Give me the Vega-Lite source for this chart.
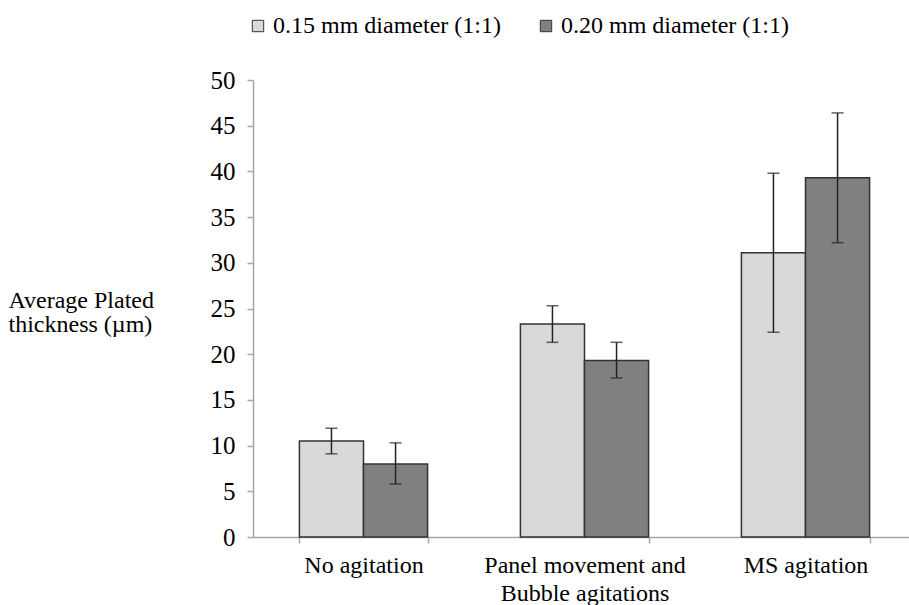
{
  "$schema": "https://vega.github.io/schema/vega-lite/v6.json",
  "width": 663,
  "height": 457,
  "autosize": {"type": "none"},
  "padding": {"left": 253, "top": 80, "right": 0, "bottom": 68},
  "background": "white",
  "config": {
    "font": "Liberation Serif",
    "view": {"stroke": null}
  },
  "data": {
    "values": [
      {"cond": "No agitation", "size": "0.15 mm diameter (1:1)", "mean": 10.5, "lo": 9.1, "hi": 11.9},
      {"cond": "No agitation", "size": "0.20 mm diameter (1:1)", "mean": 8.0, "lo": 5.8, "hi": 10.3},
      {"cond": "Panel movement and Bubble agitations", "size": "0.15 mm diameter (1:1)", "mean": 23.3, "lo": 21.3, "hi": 25.3},
      {"cond": "Panel movement and Bubble agitations", "size": "0.20 mm diameter (1:1)", "mean": 19.3, "lo": 17.4, "hi": 21.3},
      {"cond": "MS agitation", "size": "0.15 mm diameter (1:1)", "mean": 31.1, "lo": 22.4, "hi": 39.8},
      {"cond": "MS agitation", "size": "0.20 mm diameter (1:1)", "mean": 39.3, "lo": 32.2, "hi": 46.4}
    ]
  },
  "encoding": {
    "x": {
      "field": "cond",
      "type": "nominal",
      "sort": ["No agitation", "Panel movement and Bubble agitations", "MS agitation"],
      "scale": {"paddingInner": 0.42, "paddingOuter": 0.21},
      "axis": {
        "title": null,
        "labelAngle": 0,
        "labelFontSize": 24,
        "labelColor": "#000000",
        "labelPadding": 10,
        "labelLineHeight": 28,
        "labelLimit": 400,
        "labelExpr": "datum.label == 'Panel movement and Bubble agitations' ? ['Panel movement and', 'Bubble agitations'] : datum.label",
        "tickBand": "extent",
        "tickSize": 6,
        "tickColor": "#a6a6a6",
        "domainColor": "#a6a6a6",
        "domainWidth": 1.5,
        "tickWidth": 1.5,
        "grid": false
      }
    },
    "xOffset": {
      "field": "size",
      "type": "nominal",
      "scale": {"paddingInner": 0, "paddingOuter": 0}
    }
  },
  "layer": [
    {
      "mark": {"type": "bar", "stroke": "#333333", "strokeWidth": 1.5},
      "encoding": {
        "y": {
          "field": "mean",
          "type": "quantitative",
          "scale": {"domain": [0, 50]},
          "axis": {
            "title": ["Average Plated", "thickness (µm)"],
            "titleAngle": 0,
            "titleAlign": "left",
            "titleBaseline": "alphabetic",
            "titleX": -245,
            "titleY": 227,
            "titleFontSize": 24,
            "titleFontWeight": "normal",
            "titleLineHeight": 24,
            "titleColor": "#000000",
            "values": [0, 5, 10, 15, 20, 25, 30, 35, 40, 45, 50],
            "labelFontSize": 25,
            "labelColor": "#000000",
            "labelPadding": 12,
            "tickSize": 6,
            "tickColor": "#a6a6a6",
            "domainColor": "#a6a6a6",
            "domainWidth": 1.5,
            "tickWidth": 1.5,
            "grid": false
          }
        },
        "fill": {
          "field": "size",
          "type": "nominal",
          "scale": {"domain": ["0.15 mm diameter (1:1)", "0.20 mm diameter (1:1)"], "range": ["#d9d9d9", "#808080"]},
          "legend": {
            "title": null,
            "orient": "none",
            "direction": "horizontal",
            "legendX": -7,
            "legendY": -66,
            "symbolType": "square",
            "symbolSize": 130,
            "symbolStrokeColor": "#333333",
            "symbolStrokeWidth": 1,
            "labelFontSize": 24,
            "labelLimit": 400,
            "labelColor": "#000000",
            "labelOffset": 3,
            "columnPadding": 33
          }
        }
      }
    },
    {
      "mark": {"type": "rule", "color": "#222222", "strokeWidth": 1.5},
      "encoding": {
        "y": {"field": "lo", "type": "quantitative"},
        "y2": {"field": "hi"}
      }
    },
    {
      "mark": {"type": "tick", "color": "#222222", "thickness": 1.5, "size": 12},
      "encoding": {
        "y": {"field": "lo", "type": "quantitative"}
      }
    },
    {
      "mark": {"type": "tick", "color": "#222222", "thickness": 1.5, "size": 12},
      "encoding": {
        "y": {"field": "hi", "type": "quantitative"}
      }
    }
  ]
}
